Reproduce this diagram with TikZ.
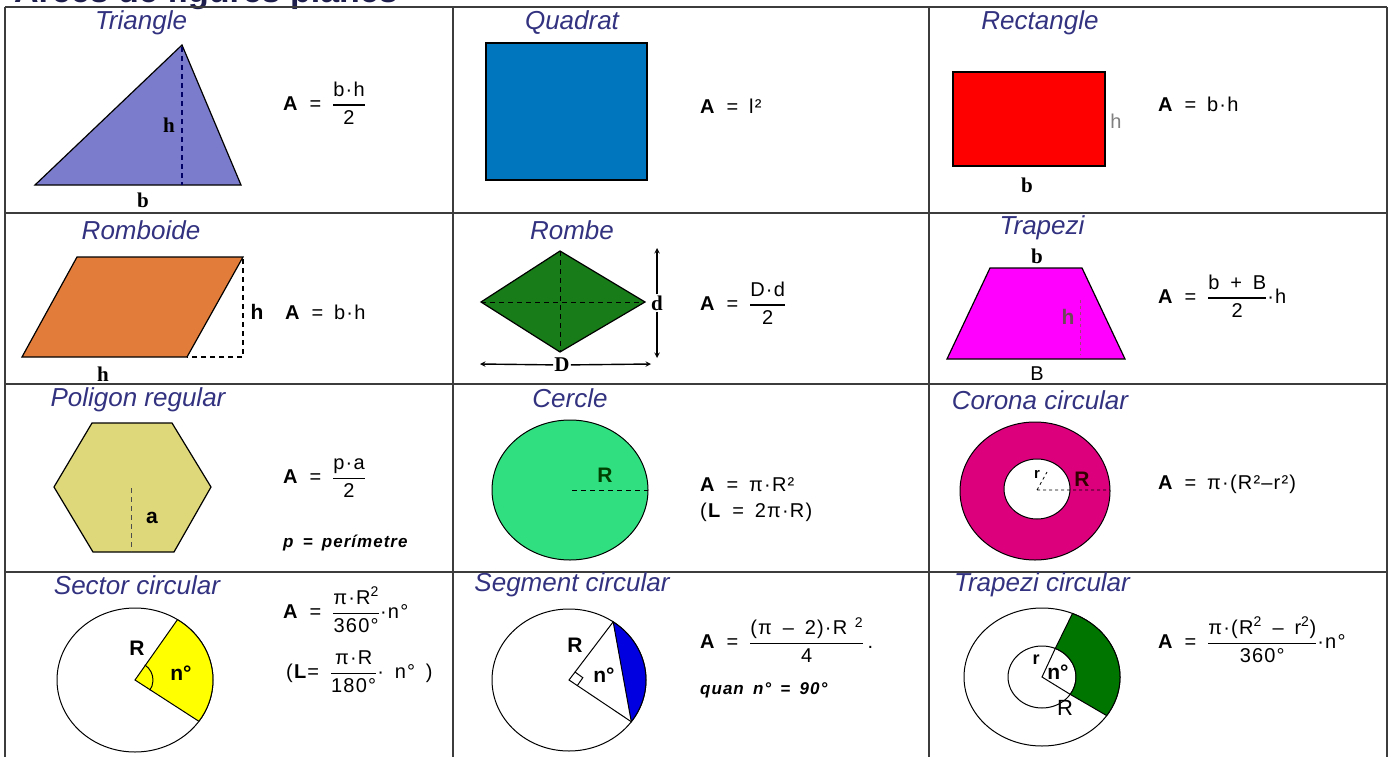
\documentclass[tikz,border=0pt]{standalone}
\usepackage{fontspec}
\usepackage{amsmath}
\setmainfont{Liberation Sans}
\newfontfamily\formfont{Liberation Sans}[LetterSpace=6.0,WordSpace=1.6]
\newfontfamily\letterfont{Liberation Serif}

\definecolor{labelblue}{RGB}{50,50,128}
\definecolor{gridgray}{RGB}{60,60,60}
\definecolor{trifill}{RGB}{124,124,204}
\definecolor{sqfill}{RGB}{0,118,190}
\definecolor{rectfill}{RGB}{255,0,0}
\definecolor{rombfill}{RGB}{226,124,58}
\definecolor{rhombfill}{RGB}{24,124,24}
\definecolor{trapfill}{RGB}{255,0,255}
\definecolor{hexfill}{RGB}{222,216,122}
\definecolor{circfill}{RGB}{48,224,128}
\definecolor{ringfill}{RGB}{220,0,124}
\definecolor{sectfill}{RGB}{255,255,0}
\definecolor{segfill}{RGB}{0,0,225}
\definecolor{annfill}{RGB}{0,118,0}

% fraction set in the formula font
\newcommand{\ffrac}[2]{\ensuremath{\genfrac{}{}{1.2pt}{0}{\text{#1}}{\text{#2}}}}

\tikzset{
    figlabel/.style={font=\fontsize{26}{30}\selectfont\itshape, text=labelblue, inner sep=0pt},
    formula/.style={font=\formfont\fontsize{20}{26}\selectfont, anchor=west, inner sep=0pt, align=left},
    letter/.style={font=\letterfont\bfseries\fontsize{21}{24}\selectfont, inner sep=1pt},
    figmark/.style={font=\bfseries\fontsize{21}{24}\selectfont, inner sep=0pt},
    gridline/.style={line width=2pt, gridgray},
    outline/.style={draw=black, line width=1.2pt},
    thinline/.style={draw=black, line width=1pt},
    dashline/.style={dashed, dash pattern=on 5pt off 4pt, line width=1.2pt},
    sizearrow/.style={->, line width=1.4pt},
}

\begin{document}
\begin{tikzpicture}[x=1pt, y=-1pt, >=stealth]
            \useasboundingbox (0,0) rectangle (1391,757);
            \clip (0,0) rectangle (1391,757);

            % Title (cut off by the top edge)
            \node[anchor=base west, inner sep=0pt, text depth=0pt, font=\bfseries\fontsize{34}{36}\selectfont, text=labelblue!60!black] (title) at (14,3) {Àrees de figures planes};

            % Table lines
            \draw[gridline] (5,7) -- (1387,7) (5,213) -- (1387,213) (5,384) -- (1387,384) (5,572) -- (1387,572);
            \draw[gridline] (5,7) -- (5,757) (453,7) -- (453,757) (929,7) -- (929,757) (1387,7) -- (1387,757);

            % Triangle
            \node[figlabel] (tri_label) at (141,23) {Triangle};
            \filldraw[outline, fill=trifill] (35,185) -- (182,45) -- (241,185) -- cycle;
            \draw[dashline, blue!40!black] (182,47) -- (182,185);
            \node[letter] (tri_h) at (169,125) {h};
            \node[letter] (tri_b) at (143,200) {b};
            \node[formula] (tri_formula) at (283,103) {\textbf{A} = \ffrac{b·h}{2}};

            % Quadrat
            \node[figlabel] (sq_label) at (572,23) {Quadrat};
            \filldraw[outline, fill=sqfill] (486,43) rectangle (647,180);
            \node[formula] (sq_formula) at (700,106) {\textbf{A} = l²};

            % Rectangle
            \node[figlabel] (rect_label) at (1040,23) {Rectangle};
            \filldraw[outline, fill=rectfill] (953,72) rectangle (1105,166);
            \node[font=\fontsize{20}{24}\selectfont, text=gray, inner sep=0pt] (rect_h) at (1116,121) {h};
            \node[letter] (rect_b) at (1027,185) {b};
            \node[formula] (rect_formula) at (1158,104) {\textbf{A} = b·h};

            % Romboide
            \node[figlabel] (romb_label) at (141,230) {Romboide};
            \filldraw[outline, fill=rombfill] (22,357) -- (77,257) -- (243,257) -- (187,357) -- cycle;
            \draw[dashline] (243,259) -- (243,357) -- (187,357);
            \node[figmark] (romb_h) at (257,312) {h};
            \node[letter] (romb_b) at (103,374) {h};
            \node[formula] (romb_formula) at (285,312) {\textbf{A} = b·h};

            % Rombe
            \node[figlabel] (rhomb_label) at (572,230) {Rombe};
            \filldraw[outline, fill=rhombfill] (481,302) -- (560,251) -- (645,302) -- (560,352) -- cycle;
            \draw[dashline, line width=1pt] (560,251) -- (560,352) (481,302) -- (645,302);
            \node[letter] (rhomb_d) at (657,303) {d};
            \coordinate (rhomb_d_top) at (657,248);
            \coordinate (rhomb_d_bot) at (657,358);
            \draw[sizearrow] (rhomb_d) -- (rhomb_d_top);
            \draw[sizearrow] (rhomb_d) -- (rhomb_d_bot);
            \node[letter] (rhomb_D) at (562,365) {D};
            \coordinate (rhomb_D_left) at (480,364);
            \coordinate (rhomb_D_right) at (651,364);
            \draw[sizearrow] (rhomb_D) -- (rhomb_D_left);
            \draw[sizearrow] (rhomb_D) -- (rhomb_D_right);
            \node[formula] (rhomb_formula) at (700,303) {\textbf{A} = \ffrac{D·d}{2}};

            % Trapezi
            \node[figlabel] (trap_label) at (1042,228) {Trapezi};
            \node[letter] (trap_b) at (1037,256) {b};
            \filldraw[outline, fill=trapfill] (947,359) -- (990,268) -- (1082,268) -- (1125,359) -- cycle;
            \draw[dashed, magenta!60!black, line width=0.6pt] (1080,300) -- (1080,355);
            \node[figmark, text=magenta!35!black] (trap_h) at (1068,317) {h};
            \node[font=\fontsize{20}{24}\selectfont, inner sep=0pt] (trap_B) at (1037,374) {B};
            \node[formula] (trap_formula) at (1158,296) {\textbf{A} = \ffrac{b + B}{2}·h};

            % Poligon regular
            \node[figlabel] (poly_label) at (138,400) {Poligon regular};
            \filldraw[outline, fill=hexfill] (54,487) -- (92,423) -- (172,423) -- (211,487) -- (174,552) -- (93,552) -- cycle;
            \draw[dashline, line width=1pt, black!70] (131,488) -- (131,552);
            \node[figmark] (poly_a) at (152,518) {a};
            \node[formula] (poly_formula) at (283,478) {\textbf{A} = \ffrac{p·a}{2}};
            \node[formula, font=\formfont\bfseries\itshape\fontsize{17}{20}\selectfont] (poly_note) at (283,543) {p = perímetre};

            % Cercle
            \node[figlabel] (circ_label) at (570,398) {Cercle};
            \filldraw[thinline, fill=circfill] (570,490) ellipse [x radius=78, y radius=70];
            \draw[dashline, line width=0.8pt] (572,490) -- (648,490);
            \node[figmark, text=green!25!black] (circ_R) at (605,475) {R};
            \node[formula] (circ_formula) at (700,500) {\textbf{A} = π·R²\\(\textbf{L} = 2π·R)};

            % Corona circular
            \node[figlabel] (ring_label) at (1040,400) {Corona circular};
            \filldraw[thinline, fill=ringfill] (1035,491) ellipse [x radius=75, y radius=69];
            \filldraw[thinline, fill=white] (1037,489) ellipse [x radius=33, y radius=30];
            \draw[dashed, line width=0.8pt] (1037,490) -- (1110,490) (1037,490) -- (1047,472);
            \node[font=\bfseries\fontsize{15}{18}\selectfont, inner sep=0pt] (ring_r) at (1037,474) {r};
            \node[figmark, text=black!80!red] (ring_R) at (1082,479) {R};
            \node[formula] (ring_formula) at (1158,484) {\textbf{A} = π·(R²–r²)};

            % Sector circular
            \node[figlabel] (sect_label) at (137,585) {Sector circular};
            \draw[thinline] (135,680) ellipse [x radius=78, y radius=72];
            \begin{scope}[shift={(135,680)}]
                \filldraw[thinline, fill=sectfill] (0,0) -- (-57:78 and 72) arc [start angle=-57, end angle=35, x radius=78, y radius=72] -- cycle;
                \draw[thinline] (-57:18) arc [start angle=-57, end angle=35, radius=18];
            \end{scope}
            \node[figmark] (sect_R) at (137,648) {R};
            \node[figmark] (sect_n) at (181,673) {n°};
            \node[formula] (sect_formula) at (283,610) {\textbf{A} = \ffrac{π·R\textsuperscript{2}}{360°}·n°};
            \node[formula] (sect_length) at (286,672) {(\textbf{L}= \ffrac{π·R}{180°}· n° )};

            % Segment circular
            \node[figlabel] (seg_label) at (572,585) {Segment circular};
            \draw[thinline] (569,680) ellipse [x radius=77, y radius=71];
            \begin{scope}[shift={(569,680)}]
                \filldraw[thinline, fill=segfill] (-55:77 and 71) arc [start angle=-55, end angle=36, x radius=77, y radius=71] -- cycle;
                \draw[thinline] (-55:77 and 71) -- (0,0) -- (36:77 and 71);
                \draw[thinline] (-55:10) -- ++(36:10) -- ++(125:10);
            \end{scope}
            \node[figmark] (seg_R) at (575,645) {R};
            \node[figmark] (seg_n) at (604,675) {n°};
            \node[formula] (seg_formula) at (700,640) {\textbf{A} = \ffrac{(π – 2)·R\textsuperscript{ 2}}{4}\,.};
            \node[formula, font=\formfont\bfseries\itshape\fontsize{17}{20}\selectfont] (seg_note) at (700,690) {quan n° = 90°};

            % Trapezi circular
            \node[figlabel] (ann_label) at (1042,585) {Trapezi circular};
            \begin{scope}[shift={(1042,677)}]
                \draw[thinline] (0,0) ellipse [x radius=78, y radius=69];
                \draw[thinline] (0,0) ellipse [x radius=34, y radius=31];
                \filldraw[thinline, fill=annfill] (-67:78 and 69) arc [start angle=-67, end angle=34, x radius=78, y radius=69] -- (34:34 and 31) arc [start angle=34, end angle=-67, x radius=34, y radius=31] -- cycle;
                \draw[thinline] (-67:34 and 31) -- (0,0) -- (34:34 and 31);
            \end{scope}
            \node[figmark, font=\bfseries\fontsize{18}{20}\selectfont] (ann_r) at (1036,660) {r};
            \node[figmark] (ann_n) at (1058,672) {n°};
            \node[font=\fontsize{22}{24}\selectfont, inner sep=0pt] (ann_R) at (1065,708) {R};
            \node[formula] (ann_formula) at (1158,640) {\textbf{A} = \ffrac{π·(R\textsuperscript{2} – r\textsuperscript{2})}{360°}·n°};
\end{tikzpicture}
\end{document}
